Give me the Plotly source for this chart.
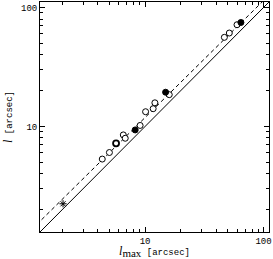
import plotly.graph_objects as go
import numpy as np

# open circles
open_x = [4.35, 5.0, 6.55, 6.8, 9.08, 10.1, 11.7, 12.1, 16.0, 46.7, 51.4, 59.7]
open_y = [5.32, 6.04, 8.49, 7.96, 10.2, 13.3, 14.1, 15.8, 18.5, 56.1, 61.0, 71.6]
# bold open circle
bold_x = [5.69]
bold_y = [7.22]
# filled circles
fill_x = [8.25, 14.9, 64.4]
fill_y = [9.35, 19.4, 74.8]
# asterisk
star_x = [2.03]
star_y = [2.24]

# one-to-one line and fitted relation  l = A * lmax^B
one_x = [1.0, 120.0]
fit_A = 1.236
fit_B = 0.983
fit_x = np.array([1.0, 120.0])
fit_y = fit_A * fit_x ** fit_B

major = [10, 100]
minor = [2, 3, 4, 5, 6, 7, 8, 9, 20, 30, 40, 50, 60, 70, 80, 90]

fig = go.Figure()
fig.add_trace(go.Scatter(x=one_x, y=one_x, mode="lines",
                         line=dict(color="black", width=1)))
fig.add_trace(go.Scatter(x=fit_x, y=fit_y, mode="lines",
                         line=dict(color="black", width=1, dash="4px,3px")))
fig.add_trace(go.Scatter(x=open_x, y=open_y, mode="markers",
                         marker=dict(symbol="circle", size=6, color="white",
                                     line=dict(color="black", width=1))))
fig.add_trace(go.Scatter(x=bold_x, y=bold_y, mode="markers",
                         marker=dict(symbol="circle", size=6, color="white",
                                     line=dict(color="black", width=1.8))))
fig.add_trace(go.Scatter(x=fill_x, y=fill_y, mode="markers",
                         marker=dict(symbol="circle", size=6, color="black",
                                     line=dict(color="black", width=1))))
fig.add_trace(go.Scatter(x=star_x, y=star_y, mode="markers",
                         marker=dict(symbol="asterisk-open", size=6, color="black",
                                     line=dict(color="black", width=1))))

axis_common = dict(
    type="log", range=[0.113, 2.046],
    tickmode="array", tickvals=major, ticktext=["10", "100"],
    ticks="inside", ticklen=5, tickwidth=1, tickcolor="black",
    minor=dict(tickvals=minor, ticks="inside", ticklen=3, tickwidth=1,
               tickcolor="black", showgrid=False),
    showline=True, linecolor="black", linewidth=1, mirror="ticks",
    showgrid=False, zeroline=False, ticklabeloverflow="allow",
    tickfont=dict(family="Liberation Mono", size=9, color="black"),
)

fig.update_xaxes(**axis_common,
                 title=dict(text='<span style="font-family:Liberation Serif;font-size:12px"><i>l</i></span>'
                                 '<sub><span style="font-family:Liberation Serif;font-size:11px">max</span></sub> [arcsec]',
                            font=dict(family="Liberation Mono", size=9, color="black"),
                            standoff=3))
fig.update_yaxes(**axis_common,
                 title=dict(text='<span style="font-family:Liberation Serif;font-size:12px"><i>l</i></span> [arcsec]',
                            font=dict(family="Liberation Mono", size=9, color="black"),
                            standoff=6))

fig.update_layout(width=273, height=259,
                  margin=dict(l=40, r=2, t=1, b=27),
                  showlegend=False,
                  plot_bgcolor="white", paper_bgcolor="white")

fig.write_html("out.html", config={"displayModeBar": False},
               post_script="document.body.style.margin='0';")
